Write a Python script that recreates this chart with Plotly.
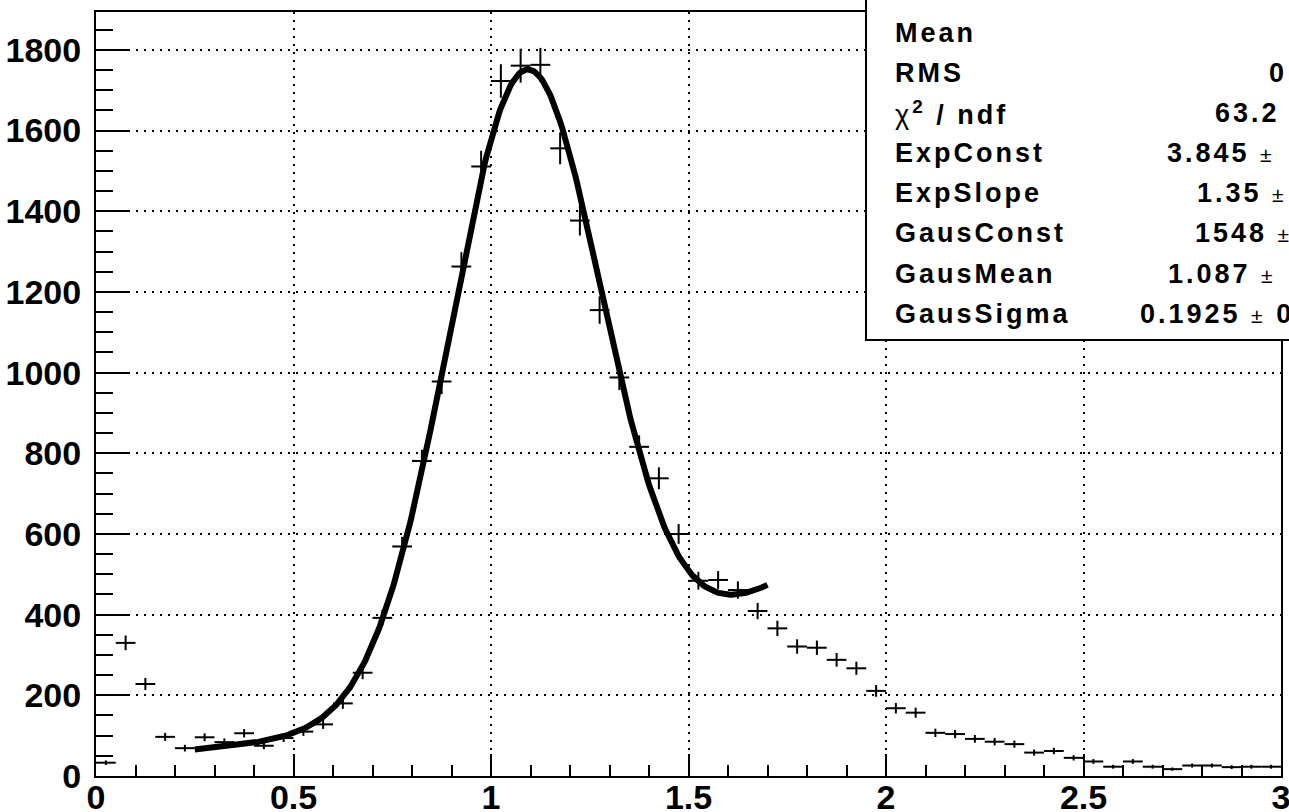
import numpy as np
import plotly.graph_objects as go

# ---- histogram: 60 bins of width 0.05 on [0, 3] ----
bin_lo, bin_hi, n_bins = 0.0, 3.0, 60
counts = [33, 330, 228, 97, 69, 96, 84, 106, 75, 94,
          110, 128, 180, 256, 392, 569, 781, 978, 1263, 1511,
          1723, 1761, 1763, 1556, 1377, 1155, 988, 816, 738, 600,
          484, 486, 461, 409, 366, 321, 318, 288, 267, 211,
          168, 157, 107, 104, 92, 85, 79, 58, 62, 45,
          36, 23, 36, 23, 17, 26, 26, 22, 23, 23]

# ---- fit: expo + gaus, parameters as printed in the stats box ----
exp_const = 3.845
exp_slope = 1.35
gaus_const = 1548
gaus_mean = 1.087
gaus_sigma = 0.1925
fit_range = [0.25, 1.7]

# ---- axis ticks ----
x_tickvals = [0, 0.5, 1, 1.5, 2, 2.5, 3]
x_ticktext = ["0", "0.5", "1", "1.5", "2", "2.5", "3"]
y_tickvals = [0, 200, 400, 600, 800, 1000, 1200, 1400, 1600, 1800]
y_ticktext = ["0", "200", "400", "600", "800", "1000", "1200", "1400", "1600", "1800"]

# ---- stats box rows (the right column runs past the canvas edge) ----
PM = "<span style='font-weight:normal;font-size:21px'>\u00b1</span>"
stat_names = ["Mean", "RMS", "<span style='font-weight:normal'>\u03c7</span><sup>2</sup> / ndf",
              "ExpConst", "ExpSlope", "GausConst", "GausMean", "GausSigma"]
stat_values = ["", "0", "63.2", "3.845 " + PM, "1.35 " + PM, "1548 " + PM,
               "1.087 " + PM, "0.1925 " + PM + " 0"]
stat_value_left_px = [None, 1267, 1213, 1165, 1195, 1193, 1166, 1138]

# ---- layout geometry (pixels) ----
W, H = 1289, 812
PL, PR, PT, PB = 96, 1281, 12, 776
y_max = 1894


def fx(px):
    return (px - PL) / (PR - PL)


def fy(py):
    return (PB - py) / (PB - PT)


edges = np.linspace(bin_lo, bin_hi, n_bins + 1)
centers = 0.5 * (edges[:-1] + edges[1:])
half_width = 0.5 * (edges[1] - edges[0])
y = np.array(counts, dtype=float)
y_err = np.sqrt(y)

xf = np.linspace(fit_range[0], fit_range[1], 400)
yf = np.exp(exp_const + exp_slope * xf) + gaus_const * np.exp(-0.5 * ((xf - gaus_mean) / gaus_sigma) ** 2)

fig = go.Figure()

fig.add_trace(go.Scatter(
    x=centers, y=y, mode="markers",
    marker=dict(size=0.1, color="black", opacity=0),
    error_x=dict(type="constant", value=half_width, width=0, thickness=2, color="black"),
    error_y=dict(type="data", array=y_err, width=0, thickness=2, color="black"),
    showlegend=False, hoverinfo="skip",
))

fig.add_trace(go.Scatter(
    x=xf, y=yf, mode="lines",
    line=dict(color="black", width=6),
    showlegend=False, hoverinfo="skip",
))

tick_font = dict(family="Liberation Sans, Arial, Helvetica, sans-serif", size=34, color="black", weight="bold")

fig.update_xaxes(
    range=[bin_lo, bin_hi], tickvals=x_tickvals, ticktext=x_ticktext,
    ticks="inside", ticklen=22, tickwidth=2, tickcolor="black",
    minor=dict(dtick=0.1, tick0=0, ticks="inside", ticklen=11, tickwidth=2, tickcolor="black", showgrid=False),
    showline=True, linewidth=2, linecolor="black", mirror=True,
    showgrid=True, gridcolor="black", gridwidth=2, griddash="2px,6px",
    zeroline=False, tickfont=tick_font, ticklabelstandoff=-10, automargin=False,
    ticklabeloverflow="allow",
)
fig.update_yaxes(
    range=[0, y_max], tickvals=y_tickvals, ticktext=y_ticktext,
    ticks="inside", ticklen=33, tickwidth=2, tickcolor="black",
    minor=dict(dtick=50, tick0=0, ticks="inside", ticklen=17, tickwidth=2, tickcolor="black", showgrid=False),
    showline=True, linewidth=2, linecolor="black", mirror=True,
    showgrid=True, gridcolor="black", gridwidth=2, griddash="2px,6px",
    zeroline=False, tickfont=tick_font, ticklabelstandoff=6, automargin=False,
    ticklabeloverflow="allow",
)

# stats box
fig.add_shape(type="rect", xref="paper", yref="paper",
              x0=fx(866), x1=fx(W + 40), y0=fy(340), y1=fy(-40),
              line=dict(color="black", width=2), fillcolor="white", layer="above")

stat_font = dict(family="Liberation Sans, Arial, Helvetica, sans-serif", size=27, color="black", weight="bold")
row_px = [32.5 + 40.2 * k for k in range(len(stat_names))]
for name, val, vx, ry in zip(stat_names, stat_values, stat_value_left_px, row_px):
    fig.add_annotation(xref="paper", yref="paper", x=fx(893), y=fy(ry),
                       xanchor="left", yanchor="middle", showarrow=False,
                       text=f"<span style='letter-spacing:3px'>{name}</span>", font=stat_font)
    if val:
        fig.add_annotation(xref="paper", yref="paper", x=fx(vx), y=fy(ry),
                           xanchor="left", yanchor="middle", showarrow=False,
                           text=f"<span style='letter-spacing:3px'>{val}</span>", font=stat_font)

fig.update_layout(
    width=W, height=H,
    margin=dict(l=PL, r=W - PR, t=PT, b=H - PB, pad=0, autoexpand=False),
    paper_bgcolor="white", plot_bgcolor="white",
    showlegend=False,
)

fig.write_html("out.html", config={"displayModeBar": False})
